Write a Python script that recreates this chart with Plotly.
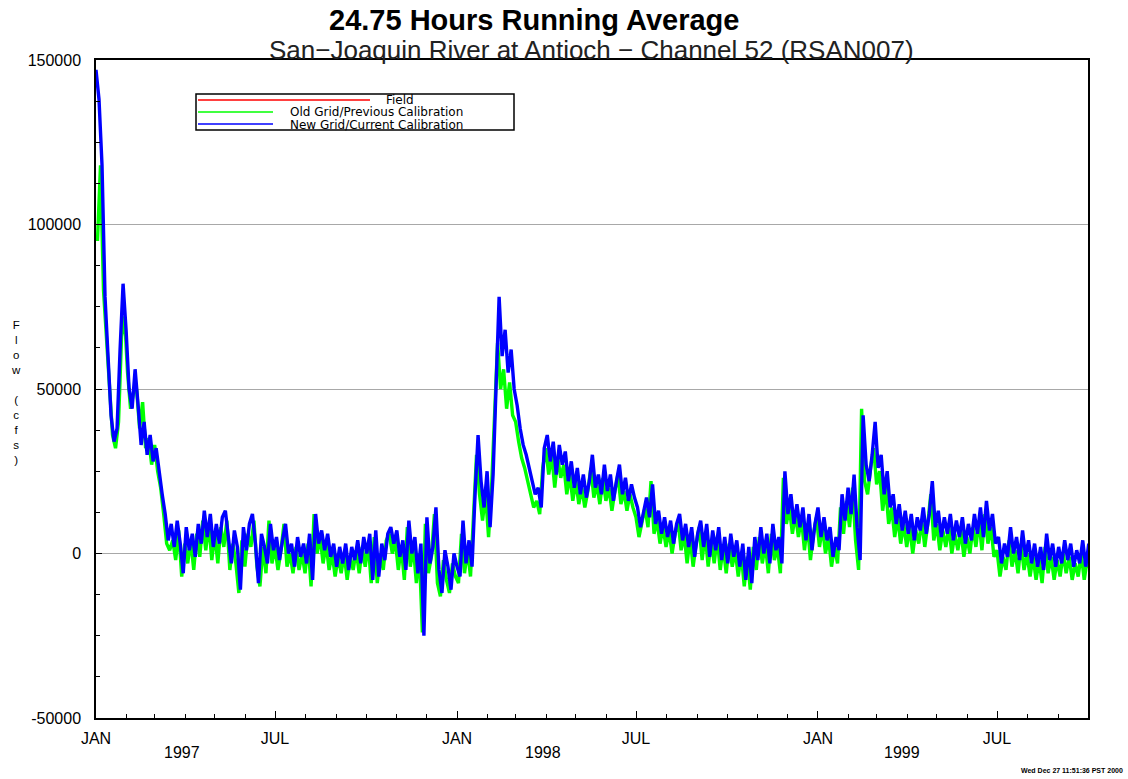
import pandas as pd
import plotly.graph_objects as go

# ---------------- data (flow, thousand cfs) ----------------
# New Grid / Current Calibration, samples every 73 h starting 1997-01-01
new_grid_kcfs = [
    147, 138, 118, 78, 60, 42, 34, 38, 62, 82, 68, 50, 44, 56, 45, 33, 40, 30, 36, 28, 32, 24, 18, 12, 4,
    9, 2, 10, 3, -6, 8, 1, 6, -1, 9, 3, 13, 5, 12, 2, 9, 3, 11, 13, 4, -3, 7, 2, -11, 8, 1, 9, 12, 3, -9, 6,
    2, -3, 9, 1, 5, -2, 4, 9, 0, 3, -4, 5, -1, 3, -3, 6, -8, 12, 3, 7, 1, 6, -1, 3, -4, 2, -3, 3, -5, 2,
    -2, 4, -3, 5, 0, 6, -8, 7, -7, 3, -2, 6, 8, 3, 7, -1, 4, -5, 10, 0, 5, -6, 3, -25, 11, -3, 2, 14, -5,
    -12, 1, -4, -11, 0, -4,
    -7, 10, -3, 4, -4, 18, 36, 22, 14, 25, 8, 24, 52, 78, 60, 68, 55, 62, 50, 45, 38, 33, 30, 26, 22, 18,
    20, 14, 32, 36, 28, 34, 24, 33, 27, 31, 22, 28, 20, 26, 18, 24, 17, 22, 30, 20, 24, 18, 27, 19, 24, 16,
    22, 27, 18, 23, 16, 21, 17, 14,
    8, 12, 17, 11, 21, 9, 13, 6, 11, 5, 10, 3, 9, 12, 4, 9, 2, 8, -1, 6, 10, 2, 9, -1, 7, 1, 8, -2, 5, -3,
    6, -1, 4, -4, 3, -8, 2, -9, 5, -2, 8, 0, 6, -3, 9, 1, 5, -3, 25, 12, 18, 9, 15, 8, 14, 4, 12, 1, 9, 14, 5,
    11, 4, 8, -1, 5, 1, 18, 10, 20, 12, 24, 8, -2, 42, 27, 22, 30, 40, 26, 30, 18, 25, 14, 18, 9, 15, 7, 13,
    6, 12, 4, 11, 7, 14, 6, 12, 22, 8, 13, 5, 11, 6, 12, 4, 10, 5, 11, 3, 9, 4, 12, 6, 14, 5, 16, 7, 12, 3,
    5, -3, 3, -1, 8, 0, 5, -2, 7, -1, 4, -3, 3, -4, 2, -5, 6, -2, 3, -4, 2, -3, 4, -2, 3, -4, 1, -3, 4, -4, 3, -2,
]

# Old Grid / Previous Calibration, samples every 73 h starting 1997-01-02 12:00
old_grid_kcfs = [
    95, 118, 80, 66, 50, 36, 32, 40, 66, 72, 55, 44, 49, 50, 38, 46, 32, 35, 27, 33, 25, 20, 12, 3, 1,
    4, -2, 7, -7, 3, -3, 4, -5, 6, -1, 10, 1, 9, -2, 6, -3, 8, 2, 10, -5, 3, -3, -12, 4, -4, 6, 2, 10, -4, -10, 2,
    -6, 10, -3, 2, -5, 1, 9, -4, 0, -6, 2, -5, 0, -6, 3, -10, 12, 0, 5, -3, 3, -5, 0, -7, -1, -6, 0, -8, -1,
    -5, 1, -6, 2, -4, 3, -9, 5, -9, 0, -5, 4, 6, 0, 4, -5, 2, -8, 8, -4, 2, -9, 0, -24, 9, -6, -1, 12, -9,
    -13, -2, -8, -12, -3, -7, -9,
    6, -6, 1, -7, 14, 30, 18, 10, 18, 5, 20, 44, 64, 50, 56, 44, 52, 42, 40, 34, 29, 26, 22, 18, 14, 16, 12,
    26, 32, 24, 30, 20, 29, 23, 27, 18, 24, 16, 22, 15, 20, 14, 19, 26, 17, 21, 15, 23, 16, 20, 13, 19, 24,
    15, 19, 13, 18, 14, 11, 5,
    9, 14, 8, 22, 6, 10, 3, 8, 2, 7, 0, 6, 10, 1, 6, -3, 5, -4, 3, 8, -2, 6, -4, 4, -3, 5, -5, 2, -6, 3, -4,
    1, -7, 0, -10, -1, -11, 2, -5, 5, -3, 3, -6, 6, -2, 2, -6, 23, 9, 14, 6, 12, 5, 11, 1, 9, -2, 6, 11, 2, 8,
    0, 5, -4, 2, -3, 14, 6, 16, 8, 20, 4, -5, 44, 22, 18, 26, 32, 21, 25, 13, 20, 9, 14, 5, 11, 3, 9, 2, 8,
    0, 7, 3, 10, 2, 9, 18, 4, 9, 1, 7, 2, 8, 0, 6, 1, 7, -1, 5, 0, 8, 2, 10, 1, 12, 3, 8, -1, 1, -7, -1, -5,
    4, -4, 1, -6, 3, -5, 0, -7, -1, -8, -2, -9, 2, -6, -1, -8, -2, -7, 0, -6, -1, -8, -3, -7, 0, -8, -2, -5,
]

field_dates = []   # no field data in this window
field_cfs = []

new_grid_start = "1997-01-01 00:00"
old_grid_start = "1997-01-02 12:00"
sample_step = "73h"

y_tick_values = [-50000, 0, 50000, 100000, 150000]
y_tick_labels = ["-50000", "0", "50000", "100000", "150000"]
x_tick_dates = ["1997-01-01", "1997-07-01", "1998-01-01", "1998-07-01", "1999-01-01", "1999-07-01"]
x_tick_labels = ["JAN", "JUL", "JAN", "JUL", "JAN", "JUL"]
year_labels = ["1997", "1998", "1999"]
year_label_dates = ["1997-03-29", "1998-03-29", "1999-03-27"]

# ---------------- figure ----------------
new_x = pd.date_range(new_grid_start, periods=len(new_grid_kcfs), freq=sample_step)
old_x = pd.date_range(old_grid_start, periods=len(old_grid_kcfs), freq=sample_step)
new_y = [v * 1000 for v in new_grid_kcfs]
old_y = [v * 1000 for v in old_grid_kcfs]

FONT = "Liberation Sans, Arial, sans-serif"

fig = go.Figure()
fig.add_trace(go.Scatter(x=field_dates, y=field_cfs, mode="lines", name="Field",
                         line=dict(color="#ff0000", width=1), showlegend=False))
fig.add_trace(go.Scatter(x=old_x, y=old_y, mode="lines", name="Old Grid/Previous Calibration",
                         line=dict(color="#00ff00", width=3.4), showlegend=False))
fig.add_trace(go.Scatter(x=new_x, y=new_y, mode="lines", name="New Grid/Current Calibration",
                         line=dict(color="#0000ff", width=3.4), showlegend=False))

minor_months = [d.strftime("%Y-%m-%d") for d in pd.date_range("1997-01-01", "1999-10-01", freq="MS")]

fig.update_layout(
    width=1128, height=779,
    margin=dict(l=96, r=40, t=60, b=61),
    paper_bgcolor="white", plot_bgcolor="white",
    font=dict(family=FONT, size=14, color="black"),
    showlegend=False,
    xaxis=dict(
        type="date", range=["1997-01-01", "1999-10-01"],
        tickmode="array", tickvals=x_tick_dates, ticktext=x_tick_labels,
        ticks="inside", ticklen=7, tickwidth=1, tickcolor="black",
        minor=dict(tickmode="array", tickvals=minor_months, ticks="inside", ticklen=4, tickcolor="black"),
        showgrid=False, zeroline=False,
        showline=True, linecolor="black", linewidth=1.5, mirror=True,
        tickfont=dict(size=16), ticklabelstandoff=5,
    ),
    yaxis=dict(
        range=[-50000, 150000],
        tickmode="array", tickvals=y_tick_values, ticktext=y_tick_labels,
        ticks="inside", ticklen=6, tickcolor="black",
        minor=dict(dtick=12500, tick0=0, ticks="inside", ticklen=4, tickcolor="black", showgrid=False),
        showgrid=True, gridcolor="#a8a8a8", gridwidth=1, zeroline=False,
        showline=True, linecolor="black", linewidth=1.5, mirror=True,
        tickfont=dict(size=16), ticklabelstandoff=10,
    ),
)

def px(xpix):
    return (xpix - 96) / 992.0

def py(ypix):
    return (718 - ypix) / 658.0

# legend box
fig.add_shape(type="rect", xref="paper", yref="paper", x0=px(196), x1=px(514), y0=py(130), y1=py(94),
              line=dict(color="black", width=1.5), fillcolor="white", layer="above")
legend_rows = [("Field", "#ff0000", 100, 370), ("Old Grid/Previous Calibration", "#00ff00", 112, 273),
               ("New Grid/Current Calibration", "#0000ff", 124, 273)]
for name, col, ypix, xend in legend_rows:
    fig.add_shape(type="line", xref="paper", yref="paper", x0=px(198), x1=px(xend), y0=py(ypix), y1=py(ypix),
                  line=dict(color=col, width=1.5), layer="above")
LEG_FONT = dict(family="DejaVu Sans, Liberation Sans, sans-serif", size=12)
fig.add_annotation(x=px(400), y=py(100), xref="paper", yref="paper", text="Field", showarrow=False,
                   xanchor="center", yanchor="middle", font=LEG_FONT)
fig.add_annotation(x=px(288), y=py(112.5), xref="paper", yref="paper", text="Old Grid/Previous Calibration",
                   showarrow=False, xanchor="left", yanchor="middle", font=LEG_FONT)
fig.add_annotation(x=px(288), y=py(125), xref="paper", yref="paper", text="New Grid/Current Calibration",
                   showarrow=False, xanchor="left", yanchor="middle", font=LEG_FONT)

# titles
fig.add_annotation(x=px(534), y=py(20), xref="paper", yref="paper", text="<b>24.75 Hours Running Average</b>",
                   showarrow=False, xanchor="center", yanchor="middle", font=dict(size=29))
fig.add_annotation(x=px(591), y=py(50), xref="paper", yref="paper",
                   text="San\u2212Joaquin River at Antioch \u2212 Channel 52 (RSAN007)",
                   showarrow=False, xanchor="center", yanchor="middle", font=dict(size=26, color="#222222"))

# y-axis title (stacked letters)
fig.add_annotation(x=px(16), y=py(392), xref="paper", yref="paper",
                   text="F<br>l<br>o<br>w<br> <br>(<br>c<br>f<br>s<br>)",
                   showarrow=False, xanchor="center", yanchor="middle", font=dict(size=11.5))

# year labels
for lbl, d in zip(year_labels, year_label_dates):
    fig.add_annotation(x=d, y=py(752), xref="x", yref="paper", text=lbl, showarrow=False,
                       xanchor="center", yanchor="middle", font=dict(size=16))

# timestamp
fig.add_annotation(x=px(1125), y=py(770), xref="paper", yref="paper", text="<b>Wed Dec 27 11:51:36 PST 2000</b>",
                   showarrow=False, xanchor="right", yanchor="middle", font=dict(size=7))

fig.write_html("out.html", config={"displayModeBar": False},
               post_script="document.body.style.margin='0px';")
